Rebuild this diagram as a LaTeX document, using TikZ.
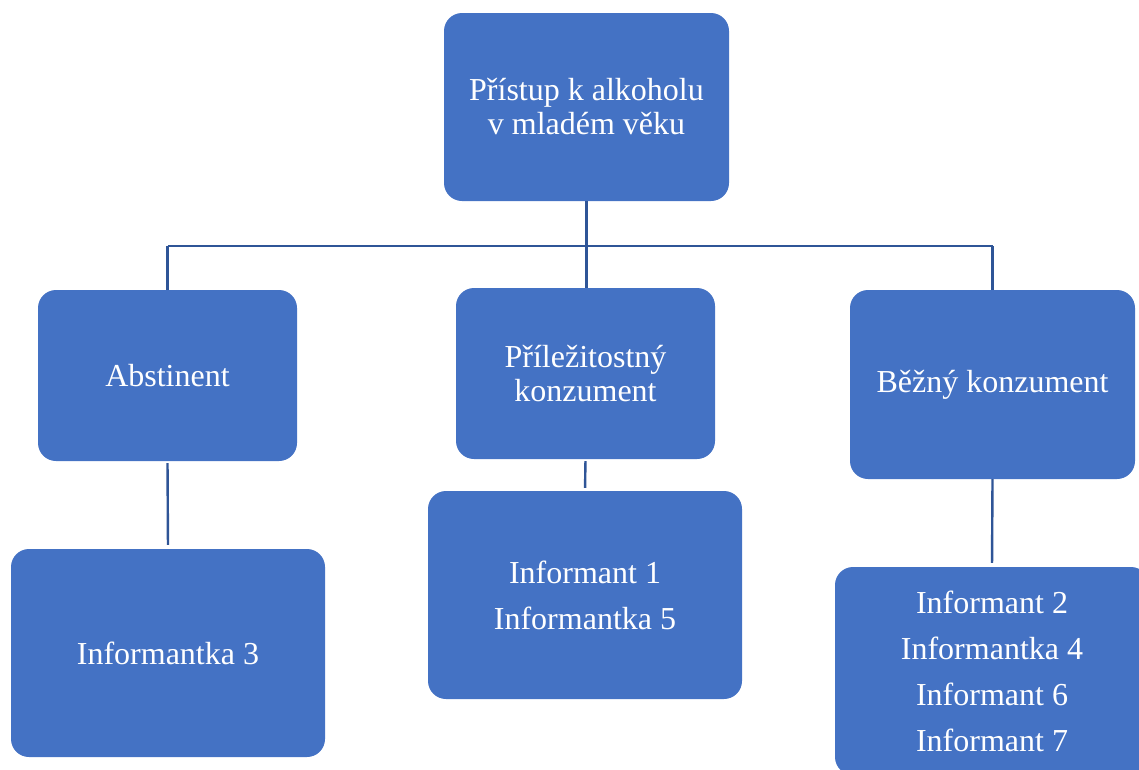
\documentclass[tikz,border=0pt]{standalone}
\usepackage{fontspec}
\setmainfont{Liberation Serif}
\definecolor{boxblue}{HTML}{4472C4}
\definecolor{lineblue}{HTML}{2F5597}
\begin{document}
\begin{tikzpicture}[x=1pt,y=-1pt,
  box/.style={draw=none,fill=boxblue,rounded corners=18pt,inner sep=0pt,
    text=white,align=center,font=\fontsize{32}{34}\selectfont},
  listbox/.style={box,font=\fontsize{32}{46}\selectfont},
  conn/.style={draw=lineblue,line width=2.4pt}]
\useasboundingbox (0,0) rectangle (1139,769);
\clip (0,0) rectangle (1139,769);
\node[box,minimum width=285pt,minimum height=188pt] (top) at (586.5,107) {Přístup k alkoholu\\v mladém věku};
\node[box,minimum width=259pt,minimum height=171pt] (abst) at (167.5,375.5) {Abstinent};
\node[box,minimum width=259pt,minimum height=171pt] (mid) at (585.5,373.5) {Příležitostný\\konzument};
\node[box,minimum width=285pt,minimum height=189pt] (bez) at (992.5,384.5) {Běžný konzument};
\node[listbox,minimum width=314pt,minimum height=208pt] (inf3) at (168,653) {Informantka 3};
\node[listbox,minimum width=314pt,minimum height=208pt] (inf15) at (585,595) {Informant 1\\Informantka 5};
\node[listbox,minimum width=314pt,minimum height=208pt] (inf2) at (992,671) {Informant 2\\Informantka 4\\Informant 6\\Informant 7};
\coordinate (hl) at (167.5,246);
\coordinate (hr) at (992.5,246);
\draw[conn] (top.south) -- (top.south |- mid.north);
\draw[conn] (hl) -- (hr);
\draw[conn] (hl) -- (abst.north);
\draw[conn] (hr) -- (bez.north);
\draw[conn,shorten <=2pt,shorten >=4pt] (abst.south) -- (inf3.north);
\draw[conn,shorten <=2pt,shorten >=3pt] (mid.south) -- (inf15.north);
\draw[conn,shorten >=4pt] (bez.south) -- (inf2.north);
\end{tikzpicture}
\end{document}
